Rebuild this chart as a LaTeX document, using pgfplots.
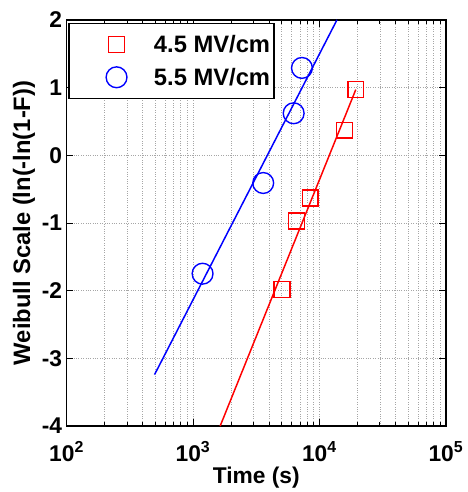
\documentclass[border=0pt]{standalone}
\usepackage{fontspec}
\setmainfont{Liberation Sans}
\usepackage{pgfplots}
\pgfplotsset{compat=1.18}

% Weibull plot data: time to breakdown (s) vs ln(-ln(1-F))
\pgfplotstableread{
t w
5070 -1.98
6560 -0.97
8450 -0.63
15740 0.37
19400 0.97
}\lowfield
\pgfplotstableread{
t w
1191 -1.75
3592 -0.41
6256 0.62
7275 1.29
}\highfield

\begin{document}
\begin{tikzpicture}
\path (-67bp,-63bp) rectangle (404bp,429bp); % page margins
\begin{axis}[
  at={(0,0)}, anchor=south west,
  scale only axis, width=382bp, height=409bp,
  xmode=log, xmin=1e2, xmax=1e5, ymin=-4, ymax=2,
  xtick={100,1000,10000,100000},
  xticklabels={10\textsuperscript{2},10\textsuperscript{3},10\textsuperscript{4},10\textsuperscript{5}},
  ytick={-4,-3,-2,-1,0,1,2},
  yticklabels={-4,-3,-2,-1,0,1,2},
  grid=both,
  major grid style={gray!70, dotted, line width=0.5pt},
  minor grid style={gray!70, dotted, line width=0.5pt},
  tick align=inside,
  major tick length=7bp, minor tick length=4bp,
  every tick/.style={black, line width=0.6pt},
  axis line style={line width=1.5pt},
  tick label style={font=\bfseries\fontsize{23}{23}\selectfont},
  xticklabel style={yshift=-12bp},
  yticklabel style={xshift=-1bp},
  xlabel={Time (s)},
  ylabel={Weibull Scale (ln(-ln(1-F))},
  xlabel style={font=\bfseries\fontsize{23}{23}\selectfont, yshift=1bp},
  ylabel style={font=\bfseries\fontsize{24}{24}\selectfont},
  legend cell align=left,
  legend image code/.code={
    \path (-45bp,0bp) (12bp,0bp);
    \draw[#1] plot coordinates {(0bp,0bp)};
  },
  legend style={
    at={(axis description cs:0.005,0.993)}, anchor=north west,
    draw=black, line width=1.5pt,
    font=\bfseries\fontsize{24}{24}\selectfont,
    inner xsep=2bp, inner ysep=10bp,
    row sep=10bp, column sep=23bp,
  },
]
\addplot[red, line width=1.5pt, forget plot] coordinates {(1641,-4) (19400,0.97)};
\addplot[blue, line width=1.5pt, forget plot] coordinates {(497,-3.24) (13770,2.0)};
\addplot[red, only marks, mark=square, mark size=8bp, line width=1.4pt] table {\lowfield};
\addplot[blue, only marks, mark=o, mark size=10.5bp, line width=1.4pt] table {\highfield};
\legend{4.5 MV/cm, 5.5 MV/cm}
\end{axis}
\end{tikzpicture}
\end{document}
